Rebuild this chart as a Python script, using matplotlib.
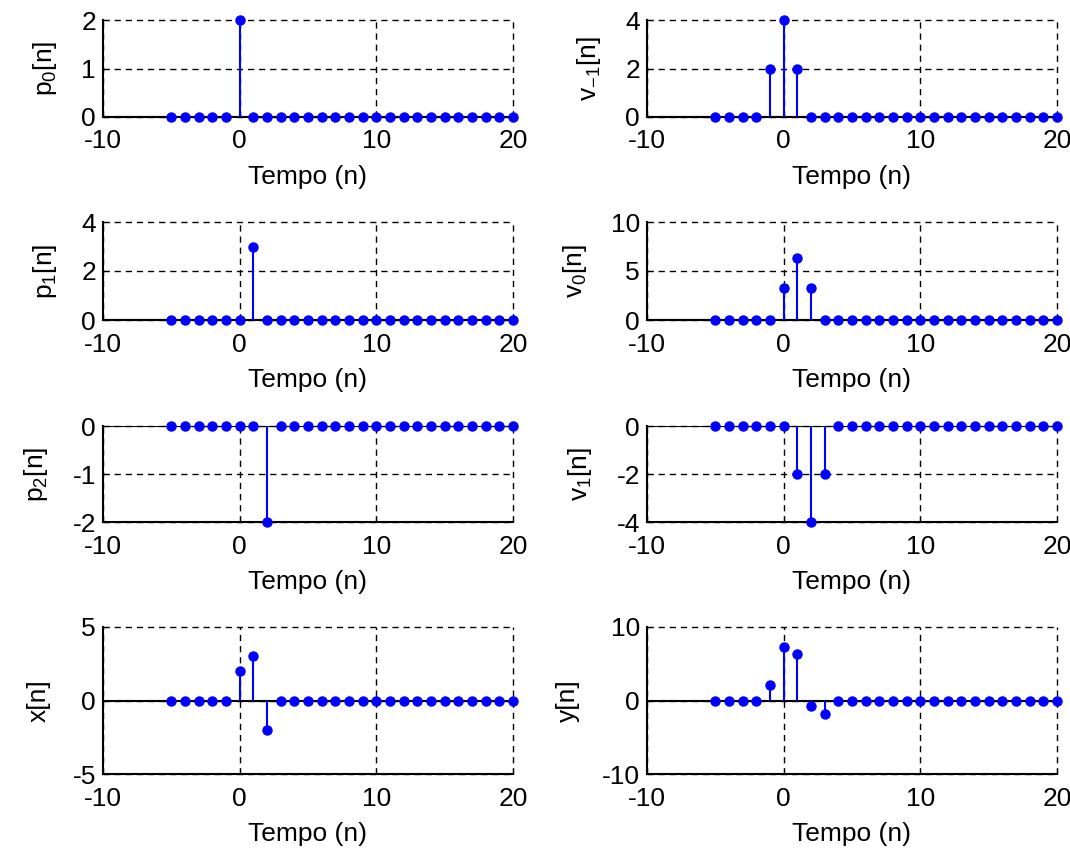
import numpy as np
import matplotlib.pyplot as plt

plt.rcParams['font.family'] = ['Liberation Sans', 'DejaVu Sans']
plt.rcParams['mathtext.default'] = 'regular'
plt.rcParams['axes.unicode_minus'] = False

# time axis
n = np.arange(-5, 21)

# nonzero samples of each signal (index -> value)
p0_vals = {0: 2}
p1_vals = {1: 3}
p2_vals = {2: -2}
x_vals = {0: 2, 1: 3, 2: -2}
vm1_vals = {-1: 2, 0: 4, 1: 2}
v0_vals = {0: 3.3, 1: 6.3, 2: 3.3}
v1_vals = {1: -2, 2: -4, 3: -2}
y_vals = {-1: 2.1, 0: 7.3, 1: 6.3, 2: -0.8, 3: -1.9}


def seq(d):
    s = np.zeros(len(n))
    for k, v in d.items():
        s[n == k] = v
    return s


panels = [
    # (data, ylabel, ylim, yticks, column, row)
    (p0_vals, 'p$_0$[n]', (0, 2), [0, 1, 2], 0, 0),
    (vm1_vals, 'v$_{-1}$[n]', (0, 4), [0, 2, 4], 1, 0),
    (p1_vals, 'p$_1$[n]', (0, 4), [0, 2, 4], 0, 1),
    (v0_vals, 'v$_0$[n]', (0, 10), [0, 5, 10], 1, 1),
    (p2_vals, 'p$_2$[n]', (-2, 0), [-2, -1, 0], 0, 2),
    (v1_vals, 'v$_1$[n]', (-4, 0), [-4, -2, 0], 1, 2),
    (x_vals, 'x[n]', (-5, 5), [-5, 0, 5], 0, 3),
    (y_vals, 'y[n]', (-10, 10), [-10, 0, 10], 1, 3),
]

W, H = 1070, 852
lefts = [103, 647]
width = 410
rows = [(20, 117), (222, 320), (426, 522), (627, 774)]

fig = plt.figure(figsize=(W / 100, H / 100), dpi=100)

for data, lab, ylim, yt, col, row in panels:
    top, bot = rows[row]
    ax = fig.add_axes([lefts[col] / W, 1 - bot / H, width / W, (bot - top) / H])
    s = seq(data)
    ax.grid(True, color='black', linestyle=(0, (4.5, 3.5)), linewidth=1)
    for gl in ax.get_xgridlines() + ax.get_ygridlines():
        gl.set_clip_on(False)
    ax.axhline(0, color='black', linewidth=1.5, zorder=2)
    ml, sl, bl = ax.stem(n, s, linefmt='b-', markerfmt='bo', basefmt=' ')
    plt.setp(sl, linewidth=1.5, color=(0, 0, 1), zorder=3)
    plt.setp(ml, markersize=6.5, color=(0, 0, 1), zorder=4, clip_on=False)
    ax.set_xlim(-10, 20)
    ax.set_ylim(*ylim)
    ax.set_xticks([-10, 0, 10, 20])
    ax.set_yticks(yt)
    ax.spines['top'].set_visible(False)
    ax.spines['right'].set_visible(False)
    ax.spines['left'].set_linewidth(1.5)
    ax.spines['bottom'].set_linewidth(1.5)
    ax.tick_params(direction='in', length=4, labelsize=19)
    ax.tick_params(axis='x', pad=9)
    ax.tick_params(axis='y', pad=5)
    ax.set_xlabel('Tempo (n)', fontsize=19, labelpad=8)
    ax.set_ylabel(lab, fontsize=19, labelpad=16)

fig.savefig('out.png', dpi=100)
